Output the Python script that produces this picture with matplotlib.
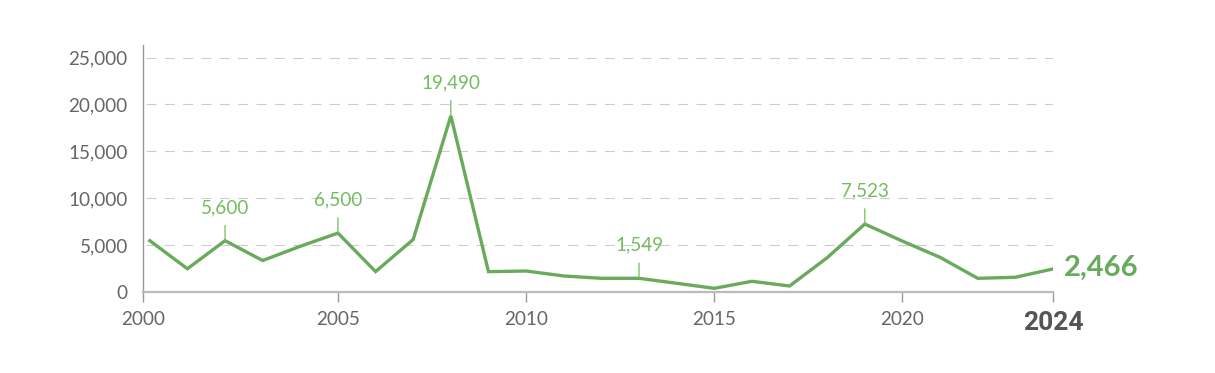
import numpy as np
import matplotlib
matplotlib.use('Agg')
import matplotlib.pyplot as plt

# values
years = list(range(2000, 2025))
values = [5450, 2450, 5450, 3330, 4850, 6260, 2150, 5580, 18780, 2140,
          2210, 1680, 1430, 1430, 900, 360, 1110, 610, 3630, 7230,
          5400, 3670, 1430, 1540, 2430]

# labelled peaks
note_years = [2002, 2005, 2008, 2013, 2019]
note_text = ['5,600', '6,500', '19,490', '1,549', '7,523']
last_text = '2,466'

y_ticks = [0, 5000, 10000, 15000, 20000, 25000]
y_tick_labels = ['0', '5,000', '10,000', '15,000', '20,000', '25,000']
x_tick_labels = ['2000', '2005', '2010', '2015', '2020', '2024']

line_green = '#6aaa5c'
text_green = '#72bd5e'
grey = '#666666'

plt.rcParams['font.family'] = ['Lato', 'DejaVu Sans']

fig = plt.figure(figsize=(12.15, 3.73), dpi=100)
ax = fig.add_axes([143 / 1215, (373 - 291.7) / 373, 910 / 1215, (291.7 - 45) / 373])

x_left = 1999.82
ax.set_xlim(x_left, 2024)
ax.set_ylim(0, 26350)

# grid
for yv in y_ticks[1:]:
    ax.axhline(yv, xmin=0.003, color='#cccccc', lw=0.8, linestyle=(0, (9, 7.5)), zorder=1)

ax.plot(years, values, color=line_green, lw=2.4, solid_joinstyle='miter', zorder=3)

# annotations
for yr, txt in zip(note_years, note_text):
    v = values[years.index(yr)]
    ax.annotate('', xy=(yr, v), xytext=(0, 11), textcoords='offset points',
                arrowprops=dict(arrowstyle='-', color=text_green, lw=0.9,
                                shrinkA=0, shrinkB=0))
    ax.annotate(txt, xy=(yr, v), xytext=(0, 20), textcoords='offset points',
                ha='center', va='baseline', color=text_green, fontsize=13.6)

ax.annotate(last_text, xy=(years[-1], values[-1]), xytext=(8, 1), textcoords='offset points',
            ha='left', va='center', color=line_green, fontsize=21, fontweight='bold',
            annotation_clip=False)

# axes styling
for s in ['top', 'right']:
    ax.spines[s].set_visible(False)
ax.spines['left'].set_color('#999999')
ax.spines['left'].set_linewidth(1)
ax.spines['bottom'].set_color('#bbbbbb')
ax.spines['bottom'].set_linewidth(1.6)

ax.set_yticks(y_ticks)
ax.set_yticklabels(y_tick_labels)
ax.tick_params(axis='y', length=0, pad=11, labelsize=13.6, labelcolor=grey)

ax.set_xticks([x_left, 2005, 2010, 2015, 2020, 2024])
ax.set_xticklabels(x_tick_labels)
ax.tick_params(axis='x', length=7, width=1, color='#999999', pad=7, labelsize=13.6, labelcolor=grey)
last = ax.get_xticklabels()[-1]
last.set_fontweight('bold')
last.set_fontsize(19)
last.set_color('#555555')
last.set_family(['Roboto', 'DejaVu Sans'])

fig.savefig('out.png', dpi=100)
